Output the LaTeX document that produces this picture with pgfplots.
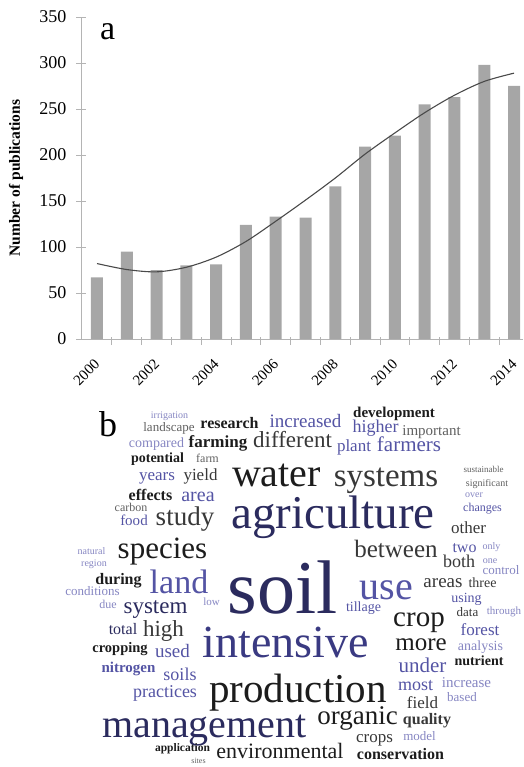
\documentclass[border=0pt]{standalone}
\usepackage{fontspec}
\setmainfont{Liberation Serif}
\usepackage{pgfplots}
\usepackage{pgfplotstable}
\pgfplotsset{compat=1.18}

\definecolor{bargray}{HTML}{A6A6A6}
\definecolor{axisgray}{HTML}{B4B4B4}
\definecolor{trend}{HTML}{4A4A4A}
\definecolor{nv}{HTML}{2B2B5E}
\definecolor{ins}{HTML}{3A3A82}
\definecolor{bl}{HTML}{5454A4}
\definecolor{lv}{HTML}{8686C2}
\definecolor{bk}{HTML}{1C1C1C}
\definecolor{dg}{HTML}{383838}
\definecolor{gr}{HTML}{606060}

\pgfplotstableread{
year n
2000 67
2001 95
2002 75
2003 80
2004 81
2005 124
2006 133
2007 132
2008 166
2009 209
2010 221
2011 255
2012 263
2013 298
2014 275
}\pubs

\pgfplotstableread{
year fit
2000 82
2001 75.5
2002 73
2003 78
2004 89
2005 106
2006 128
2007 151
2008 175
2009 201
2010 224
2011 246
2012 265
2013 280
2014 289
}\trendtab

% word cloud: x centre, y baseline (pixels from top), font size (pt), word
\pgfplotstableread{
x y s w
333 528 47 agriculture
282.5 613 76 soil
155.5 613 23 system
123 634 16 total
204.5 737 40 management
}\wnv
\pgfplotstableread{
x y s w
285.5 657 46 intensive
}\wins
\pgfplotstableread{
x y s w
305.5 427 19 increased
375.5 432 18 higher
354 451 17 plant
409 451 21 farmers
157 480 17 years
198 501 20 area
482.5 511 12 changes
134 525 15 food
464.5 552 16 two
179 593 34 land
386.5 599 40 use
466.5 602 14 using
363.5 611 14 tillage
480 635 17 forest
172.5 657 19 used
422.5 672 21 under
180 680 18 soils
415.5 690 18 most
165 697 18 practices
}\wbl
\pgfplotstableread{
x y s w
169.5 418 10 irrigation
156.5 447 14 compared
474 497 10 over
91.5 554 10 natural
491.5 549 10 only
490 563 10 one
94 566 10 region
501 574 13 control
92.5 595 13 conditions
211.5 605 11 low
108 608 12 due
504 614 11 through
480.5 650 14 analysis
466.5 687 15 increase
462 701 13 based
419.5 740 13 model
}\wlv
\pgfplotstableread{
x y s w
276.5 486 40 water
162.5 558 31 species
419 626 29 crop
421 650 25 more
298 702 41 production
357.5 724 27 organic
280 758 22 environmental
}\wbk
\pgfplotstableread{
x y s w
292.5 447 23 different
200.5 480 17 yield
386 486 33 systems
185 525 27 study
468.5 533 17 other
396 557 25 between
459 567 18 both
443 587 19 areas
482.5 587 14 three
467.5 616 13 data
163.5 636 23 high
422.5 708 17 field
374.5 742 17 crops
}\wdg
\pgfplotstableread{
x y s w
169 431 13 landscape
431.5 435 15 important
207.5 462 12 farm
483.5 472 9 sustainable
487 486 10 significant
131 511 12 carbon
198.5 763 8 sites
}\wgr
\pgfplotstableread{
x y s w
229.5 428 16 research
394 417 15 development
218 447 17 farming
157.5 462 14 potential
150.5 500 16 effects
118.5 584 16 during
120 652 14.5 cropping
479 665 14 nutrient
400.5 759 16 conservation
182.5 751 11.5 application
}\wbbk
\pgfplotstableread{
x y s w
128.5 672 15 nitrogen
}\wbbl
\pgfplotstableread{
x y s w
427 724 16 quality
}\wbdg

\pgfplotsset{
  word/.style={only marks, mark=none,
    point meta=explicit symbolic,
    visualization depends on={\thisrow{s}\as\ws},
    nodes near coords,
    nodes near coords style={anchor=base, inner sep=0pt, text=#1,
      font=\rmfamily\fontsize{10}{12}\selectfont, scale=\ws/10}},
  boldword/.style={only marks, mark=none,
    point meta=explicit symbolic,
    visualization depends on={\thisrow{s}\as\ws},
    nodes near coords,
    nodes near coords style={anchor=base, inner sep=0pt, text=#1,
      font=\rmfamily\bfseries\fontsize{10}{12}\selectfont, scale=\ws/10}},
}

\begin{document}
\begin{tikzpicture}
% ---------- panel a ----------
\begin{axis}[
  at={(81pt,-339pt)}, anchor=south west,
  scale only axis, width=442pt, height=322pt,
  xmin=1999.463, xmax=2014.30, ymin=0, ymax=350,
  axis x line*=bottom, axis y line*=left,
  axis line style={draw=axisgray, line width=0.8pt},
  tick align=center, major tick length=10pt, minor tick length=8pt,
  ytick={0,50,...,350},
  yticklabels={0,50,100,150,200,250,300,350},
  ytick style={draw=axisgray, line width=0.8pt},
  xtick={2000,2002,...,2014},
  xticklabels={2000,2002,2004,2006,2008,2010,2012,2014},
  major x tick style={draw=none},
  minor xtick={2000.5,2001.5,...,2013.5},
  minor x tick style={draw=axisgray, line width=0.8pt, yshift=-2pt},
  /pgf/number format/assume math mode=true,
  yticklabel style={font=\rmfamily\fontsize{18}{18}\selectfont, anchor=east, xshift=-6pt},
  xticklabel style={font=\rmfamily\fontsize{15}{15}\selectfont, rotate=45, anchor=north east, xshift=-9pt, yshift=-4pt},
  ylabel={Number of publications},
  every axis y label/.style={at={(axis description cs:-0.147,0.5)}, rotate=90, anchor=center,
    font=\rmfamily\bfseries\fontsize{15.5}{15.5}\selectfont},
  clip=false,
]
\addplot[ybar, bar width=12pt, fill=bargray, draw=none] table[x=year, y=n] {\pubs};
\addplot[smooth, line width=1.1pt, color=trend] table[x=year, y=fit] {\trendtab};
\end{axis}

% ---------- panel b (word cloud) ----------
\begin{axis}[
  name=wc,
  at={(0pt,0pt)}, anchor=north west,
  scale only axis, width=523pt, height=767pt,
  xmin=0, xmax=523, ymin=0, ymax=767, y dir=reverse,
  hide axis, clip=false,
]
\addplot[word=nv] table[x=x, y=y, meta=w] {\wnv};
\addplot[word=ins] table[x=x, y=y, meta=w] {\wins};
\addplot[word=bl] table[x=x, y=y, meta=w] {\wbl};
\addplot[word=lv] table[x=x, y=y, meta=w] {\wlv};
\addplot[word=bk] table[x=x, y=y, meta=w] {\wbk};
\addplot[word=dg] table[x=x, y=y, meta=w] {\wdg};
\addplot[word=gr] table[x=x, y=y, meta=w] {\wgr};
\addplot[boldword=bk] table[x=x, y=y, meta=w] {\wbbk};
\addplot[boldword=bl] table[x=x, y=y, meta=w] {\wbbl};
\addplot[boldword=dg] table[x=x, y=y, meta=w] {\wbdg};
\node[anchor=base west, inner sep=0pt, font=\rmfamily\fontsize{34}{34}\selectfont] at (axis cs:100,39) {a};
\node[anchor=base west, inner sep=0pt, font=\rmfamily\fontsize{36}{36}\selectfont] at (axis cs:99,436) {b};
\end{axis}
\pgfresetboundingbox
\path (wc.north west) rectangle (wc.south east);
\end{tikzpicture}
\end{document}
